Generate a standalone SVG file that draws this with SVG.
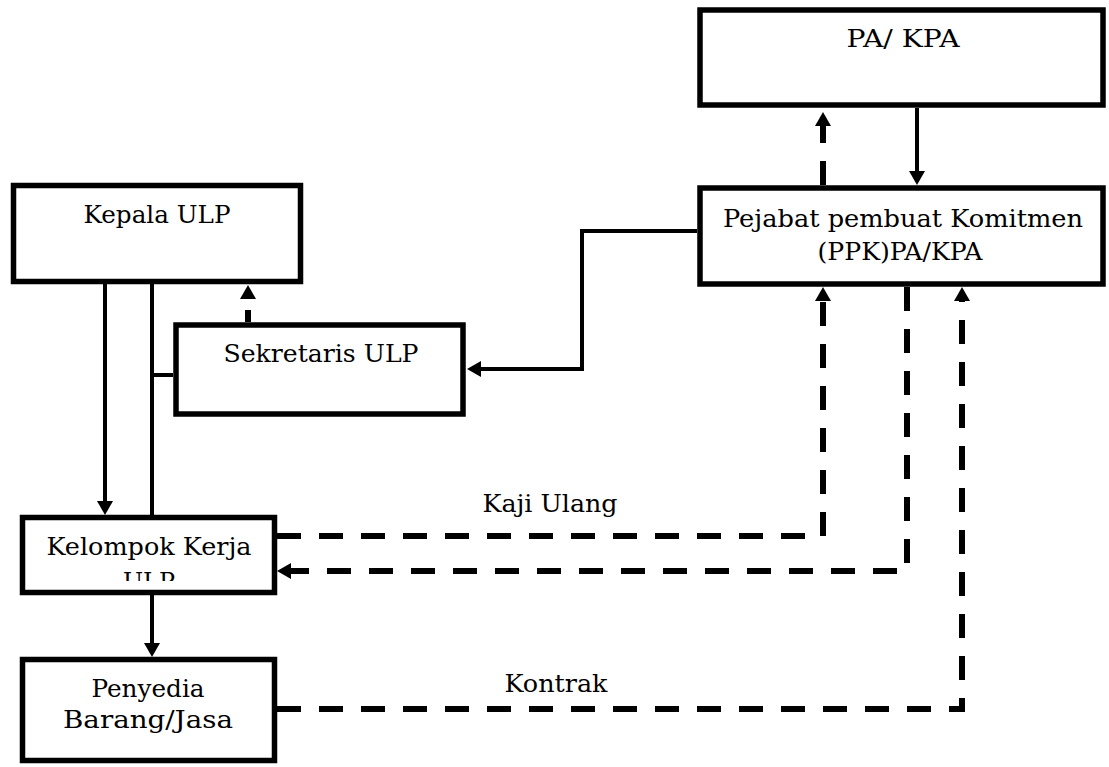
<svg xmlns="http://www.w3.org/2000/svg" width="1109" height="767" viewBox="0 0 1109 767">
<style>
.box{fill:#fff;stroke:#000;stroke-width:5.5}
.t{font-family:"DejaVu Serif","Liberation Serif",serif;font-size:25px;fill:#000;text-anchor:middle}
.lbl{font-family:"DejaVu Serif","Liberation Serif",serif;font-size:25px;fill:#000;text-anchor:middle}
.solid{fill:none;stroke:#000;stroke-width:4}
.dash{fill:none;stroke:#000;stroke-width:6;stroke-dasharray:24 18}
</style>
<defs>
<marker id="ah" viewBox="0 0 14 16" refX="0" refY="8" markerWidth="14" markerHeight="16" markerUnits="userSpaceOnUse" orient="auto">
<path d="M0,0 L14,8 L0,16 z" fill="#000"/>
</marker>
<clipPath id="kkclip"><rect x="20" y="515" width="257" height="66"/></clipPath>
</defs>
<g id="connectors">
<path class="dash" d="M823,185 L823,126" marker-end="url(#ah)"/>
<path class="solid" d="M917,108 L917,171" stroke-width="5" marker-end="url(#ah)"/>
<path class="solid" d="M697,231 L582,231 L582,369 L481,369" stroke-width="3.5" marker-end="url(#ah)"/>
<path class="dash" d="M248,322 L248,299" style="stroke-dasharray:12 11" marker-end="url(#ah)"/>
<path class="solid" d="M105,284 L105,501" stroke-width="3.5" marker-end="url(#ah)"/>
<path class="solid" d="M152,284 L152,515" stroke-width="5.5"/>
<path class="solid" d="M152,375 L173,375" stroke-width="4"/>
<path class="solid" d="M152,595 L152,643" stroke-width="4" marker-end="url(#ah)"/>
<path class="dash" d="M277,536 L823,536 L823,301" marker-end="url(#ah)"/>
<path class="dash" d="M907,287 L907,571 L291,571" marker-end="url(#ah)"/>
<path class="dash" d="M277,709 L962,709 L962,301" marker-end="url(#ah)"/>
<text class="lbl" x="550" y="512" textLength="135" lengthAdjust="spacingAndGlyphs">Kaji Ulang</text>
<text class="lbl" x="556" y="692" textLength="103" lengthAdjust="spacingAndGlyphs">Kontrak</text>
</g>
<g id="pa-kpa">
<rect class="box" x="700" y="10" width="403" height="95"/>
<text class="t" x="903" y="47" textLength="113" lengthAdjust="spacingAndGlyphs">PA/ KPA</text>
</g>
<g id="ppk">
<rect class="box" x="700" y="188" width="403" height="96"/>
<text class="t" x="903" y="227" textLength="360" lengthAdjust="spacingAndGlyphs">Pejabat pembuat Komitmen</text>
<text class="t" x="900" y="260" textLength="165" lengthAdjust="spacingAndGlyphs">(PPK)PA/KPA</text>
</g>
<g id="kepala-ulp">
<rect class="box" x="13.5" y="185.5" width="287" height="96"/>
<text class="t" x="157" y="223" textLength="147" lengthAdjust="spacingAndGlyphs">Kepala ULP</text>
</g>
<g id="sekretaris-ulp">
<rect class="box" x="176" y="325" width="287" height="89"/>
<text class="t" x="321" y="362" textLength="195" lengthAdjust="spacingAndGlyphs">Sekretaris ULP</text>
</g>
<g id="kelompok-kerja">
<rect class="box" x="22.5" y="517.5" width="252" height="75"/>
<text class="t" x="149" y="555" textLength="205" lengthAdjust="spacingAndGlyphs">Kelompok Kerja</text>
<text class="t" x="149" y="590" clip-path="url(#kkclip)" textLength="52" lengthAdjust="spacingAndGlyphs">ULP</text>
</g>
<g id="penyedia">
<rect class="box" x="22.5" y="659.5" width="252" height="101"/>
<text class="t" x="148" y="697" textLength="113" lengthAdjust="spacingAndGlyphs">Penyedia</text>
<text class="t" x="148" y="728" textLength="170" lengthAdjust="spacingAndGlyphs">Barang/Jasa</text>
</g>
</svg>
